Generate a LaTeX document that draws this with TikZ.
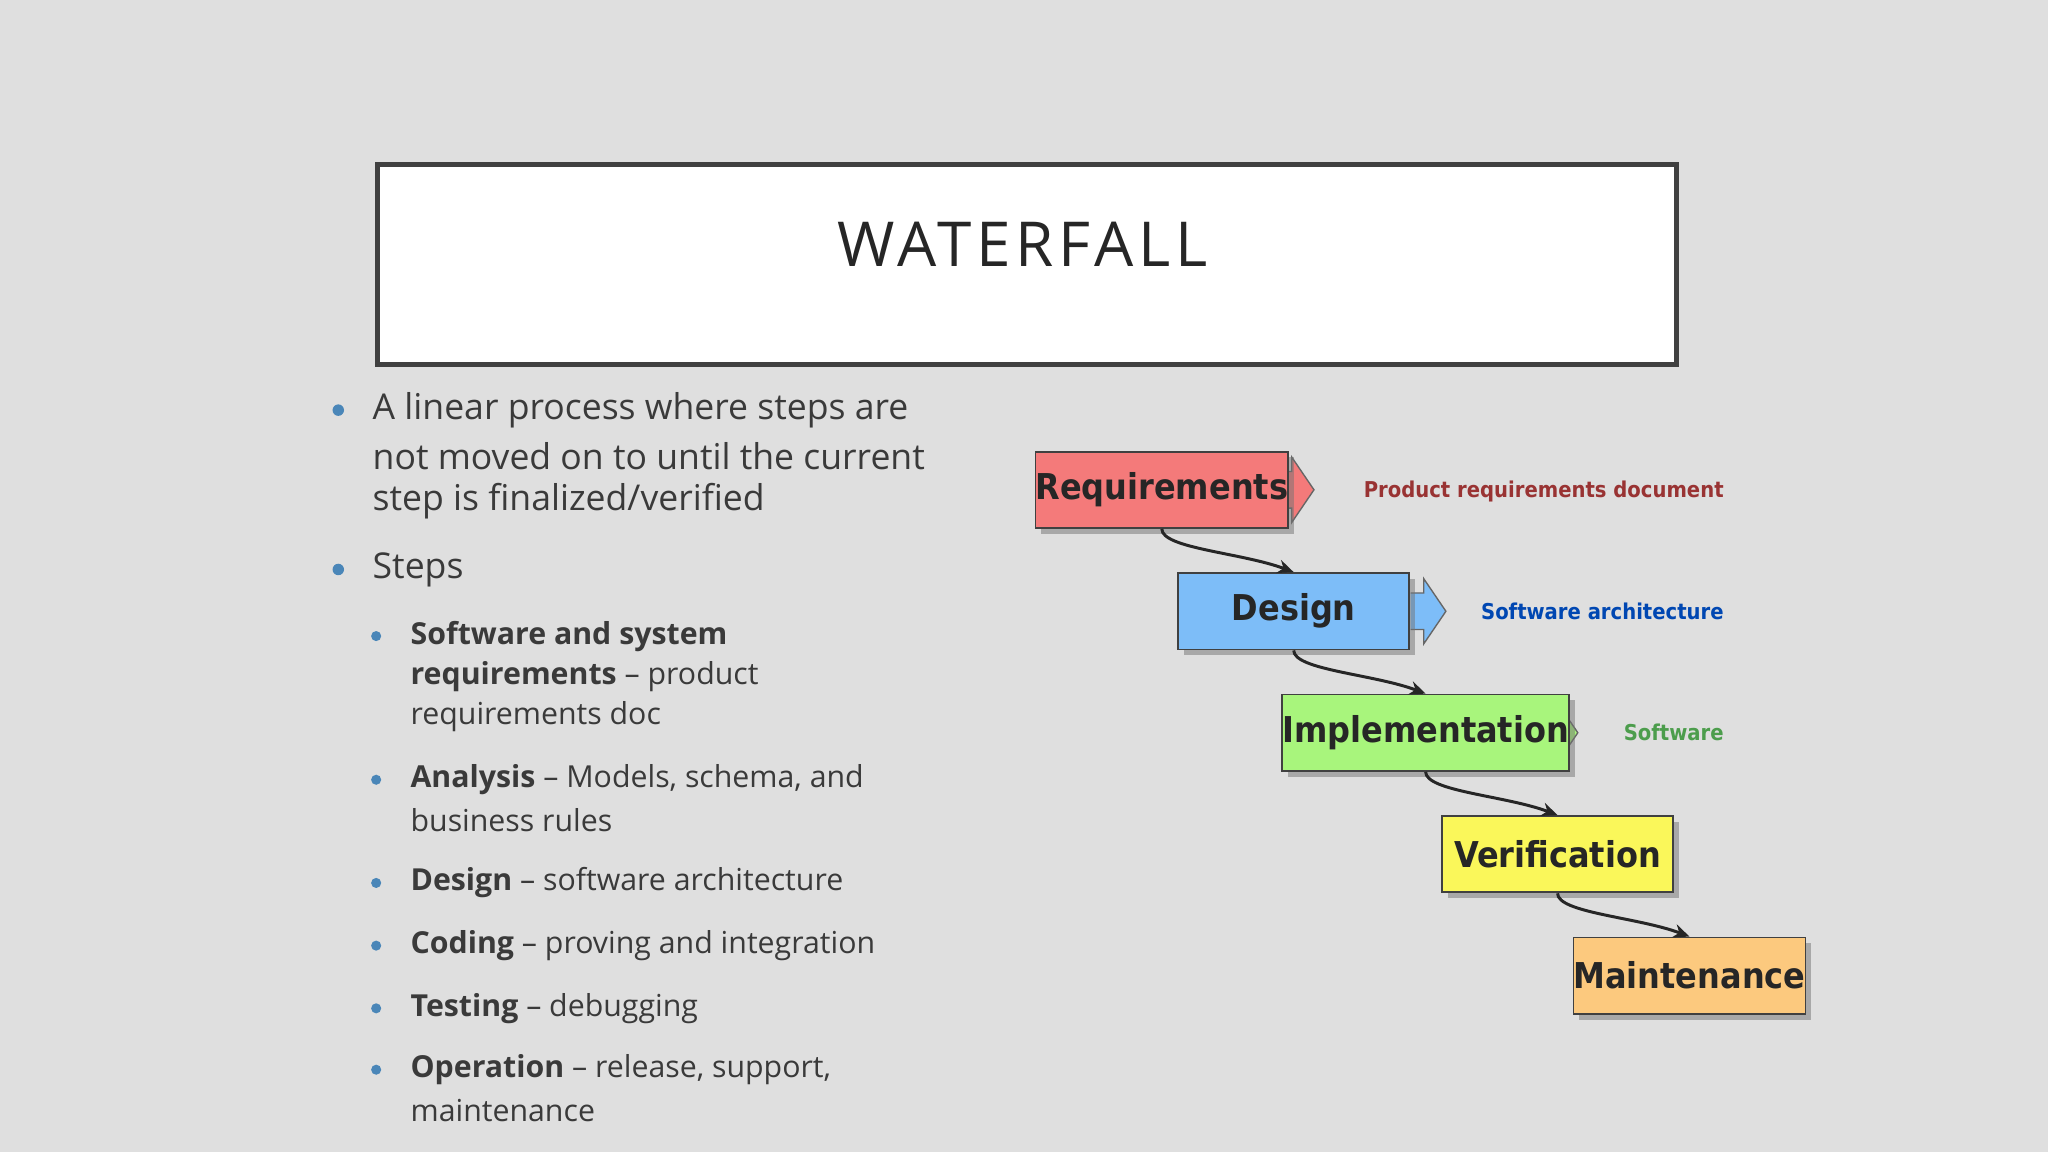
\documentclass[tikz,border=0pt]{standalone}
\usepackage{fontspec}
\setmainfont{Open Sans}
\newfontfamily\titlefont[LetterSpace=8]{Open Sans}
\newfontfamily\boxfont{DejaVu Sans Condensed}
\usetikzlibrary{arrows.meta}
\definecolor{bg}{HTML}{DFDFDF}
\definecolor{txt}{HTML}{3A3A3A}
\definecolor{bul}{HTML}{4A86B8}
\tikzset{
 mtext/.style={anchor=west,inner sep=0,font=\fontsize{15.5}{18}\selectfont,text=txt},
 stext/.style={anchor=west,inner sep=0,font=\fontsize{13.2}{16}\selectfont,text=txt},
 bdot/.style={circle,fill=bul,inner sep=0,minimum size=5pt},
 sdot/.style={circle,fill=bul,inner sep=0,minimum size=4.4pt},
 stepbox/.style={draw=black!75,line width=0.8pt,minimum width=3.54cm,minimum height=1.17cm,inner sep=0,
   font=\boxfont\bfseries\fontsize{15.5}{18}\selectfont,text=black!85,
   drop shadow={shadow xshift=2.5pt,shadow yshift=-2.5pt,fill=black!55}},
 flow/.style={-{Stealth[length=7pt,width=6pt]},line width=1.3pt,black!85},
 lab/.style={anchor=east,inner sep=0,font=\boxfont\bfseries\fontsize{9.5}{11}\selectfont},
}
\usetikzlibrary{shadows}
\begin{document}
\begin{tikzpicture}[x=0.02cm,y=-0.02cm]
\fill[bg] (0,0) rectangle (1568,882);
\useasboundingbox (0,0) rectangle (1568,882);
% title
\node[draw=black!75,line width=2.2pt,fill=white,minimum width=19.9cm,minimum height=3.06cm,anchor=north west,inner sep=0] (tb) at (287,124) {};
\node[inner sep=0,font=\titlefont\fontsize{27}{30}\selectfont,text=black!85] (title) at (783,187) {WATERFALL};
% bullets
\node[bdot] (d1) at (259,314) {};
\node[mtext] (l1) at (285,314) {A linear process where steps are};
\node[mtext] (l2) at (285,349) {not moved on to until the current};
\node[mtext] (l3) at (285,384) {step is finalized/verified};
\node[bdot] (d2) at (259,436) {};
\node[mtext] (l4) at (285,436) {Steps};
\node[sdot] (s1) at (288,487) {};
\node[stext] (t1) at (314,487) {\textbf{Software and system}};
\node[stext] (t2) at (314,518) {\textbf{requirements} – product};
\node[stext] (t3) at (314,549) {requirements doc};
\node[sdot] (s2) at (288,597) {};
\node[stext] (t4) at (314,597) {\textbf{Analysis} – Models, schema, and};
\node[stext] (t5) at (314,628) {business rules};
\node[sdot] (s3) at (288,676) {};
\node[stext] (t6) at (314,676) {\textbf{Design} – software architecture};
\node[sdot] (s4) at (288,724) {};
\node[stext] (t7) at (314,724) {\textbf{Coding} – proving and integration};
\node[sdot] (s5) at (288,772) {};
\node[stext] (t8) at (314,772) {\textbf{Testing} – debugging};
\node[sdot] (s6) at (288,819) {};
\node[stext] (t9) at (314,819) {\textbf{Operation} – release, support,};
\node[stext] (t10) at (314,850) {maintenance};
% waterfall
\definecolor{cR}{HTML}{F47A7A}
\definecolor{cD}{HTML}{7DBDF8}
\definecolor{cI}{HTML}{A8F57C}
\definecolor{cV}{HTML}{FAF75A}
\definecolor{cM}{HTML}{FCC97E}
\foreach \x/\y/\c in {978/375/cR,1079/468/cD,1180/561/cI}{
 \filldraw[fill=\c,draw=black!60,line width=0.6pt] (\x+1,\y-14)--(\x+11,\y-14)--(\x+11,\y-25)--(\x+28,\y)--(\x+11,\y+25)--(\x+11,\y+14)--(\x+1,\y+14);
}
\node[stepbox,fill=cR] (req) at (889.5,375) {Requirements};
\node[stepbox,fill=cD] (des) at (990.5,468) {Design};
\node[stepbox,fill=cI] (imp) at (1091.5,561) {Implementation};
\node[stepbox,fill=cV] (ver) at (1192.5,654) {Verification};
\node[stepbox,fill=cM] (mai) at (1293.5,747) {Maintenance};
\node[lab,text=red!50!black!80] (pl) at (1320,376) {Product requirements document};
\node[lab,text=blue!60!cyan!70!black] (dl) at (1320,468) {Software architecture};
\node[lab,text=green!45!black!70] (il) at (1320,561) {Software};
\draw[flow] (req.south) ++(0,0) coordinate (a1) .. controls +(0,15) and +(-40,-15) .. (des.north);
\draw[flow] (des.south) .. controls +(0,15) and +(-40,-15) .. (imp.north);
\draw[flow] (imp.south) .. controls +(0,15) and +(-40,-15) .. (ver.north);
\draw[flow] (ver.south) .. controls +(0,15) and +(-40,-15) .. (mai.north);
\end{tikzpicture}
\end{document}
